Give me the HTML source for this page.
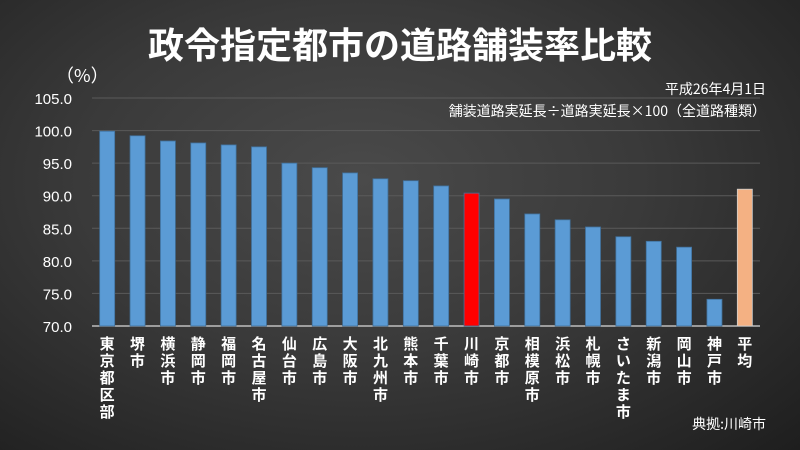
<!DOCTYPE html>
<html><head><meta charset="utf-8"><style>
body{margin:0;width:800px;height:450px;overflow:hidden;background:radial-gradient(ellipse at 45% 40%,#4a4a4a 0%,#3a3a3a 45%,#1e1e1e 100%);font-family:"Liberation Sans","Noto Sans CJK JP",sans-serif;}
svg{display:block}
</style></head><body>
<svg id="chart" width="800" height="450">
<text x="400" y="58" text-anchor="middle" fill="#fff" font-size="36" font-weight="bold" font-family="Liberation Sans,Noto Sans CJK JP,sans-serif">政令指定都市の道路舗装率比較</text>
<text x="56" y="82" fill="#fff" font-size="18" font-family="Noto Sans CJK JP,sans-serif">（%）</text>
<text x="766" y="94" text-anchor="end" fill="#fff" font-size="14" font-family="Noto Sans CJK JP,sans-serif">平成26年4月1日</text>
<text x="766" y="116" text-anchor="end" fill="#fff" font-size="14" font-family="Noto Sans CJK JP,sans-serif">舗装道路実延長÷道路実延長×100（全道路種類）</text>
<text x="766" y="429" text-anchor="end" fill="#fff" font-size="14" font-family="Noto Sans CJK JP,sans-serif">典拠:川崎市</text>
<g id="grid"></g><g id="bars"></g><g id="labels"></g>
</svg>
<script>
const categories=["東京都区部","堺市","横浜市","静岡市","福岡市","名古屋市","仙台市","広島市","大阪市","北九州市","熊本市","千葉市","川崎市","京都市","相模原市","浜松市","札幌市","さいたま市","新潟市","岡山市","神戸市","平均"];
const values=[99.9,99.2,98.4,98.1,97.8,97.5,95.0,94.3,93.5,92.6,92.3,91.5,90.4,89.5,87.2,86.3,85.2,83.7,83.0,82.1,74.1,91.0];
const ticks=[70,75,80,85,90,95,100,105];
const ns="http://www.w3.org/2000/svg";
const L=92,R=760,yMin=70,yMax=105,y0=326,y1=98;
const y=v=>y0-(v-yMin)/(yMax-yMin)*(y0-y1);
const band=(R-L)/categories.length;
const x=i=>L+band*(i+0.5);
const g=document.getElementById('grid'),b=document.getElementById('bars'),lb=document.getElementById('labels');
ticks.forEach(t=>{
 const ln=document.createElementNS(ns,'line');
 
 
 ln.setAttribute('x1',L);ln.setAttribute('x2',R);ln.setAttribute('y1',y(t));ln.setAttribute('y2',y(t));
 ln.setAttribute('stroke',t===yMin?'#d9d9d9':'#5a5a5a');ln.setAttribute('stroke-width',t===yMin?1.2:1);
 g.appendChild(ln);
 const tx=document.createElementNS(ns,'text');
 
 
 tx.setAttribute('x',L-20);tx.setAttribute('y',y(t)+6);tx.setAttribute('text-anchor','end');
 tx.setAttribute('fill','#fff');tx.setAttribute('font-size','15');
 tx.textContent=t.toFixed(1);g.appendChild(tx);
});
categories.forEach((c,i)=>{
 const r=document.createElementNS(ns,'rect');
 
 
 const w=15;
 r.setAttribute('x',x(i)-w/2);r.setAttribute('width',w);
 r.setAttribute('y',y(values[i]));r.setAttribute('height',y0-y(values[i]));
 const fill=c==="川崎市"?'#ff0000':(c==="平均"?'#f4b183':'#5b9bd5');
 r.setAttribute('fill',fill);r.setAttribute('stroke',c==="平均"?'#d0d0d0':'#41719c');r.setAttribute('stroke-width','0.8');
 b.appendChild(r);
 [...c].forEach((ch,k)=>{
  const t=document.createElementNS(ns,'text');
  
  
  t.setAttribute('x',x(i));t.setAttribute('y',349+k*17);t.setAttribute('text-anchor','middle');
  t.setAttribute('fill','#fff');t.setAttribute('font-size','15');t.setAttribute('font-weight','bold');
  t.textContent=ch;lb.appendChild(t);
 });
});
</script>
</body></html>
